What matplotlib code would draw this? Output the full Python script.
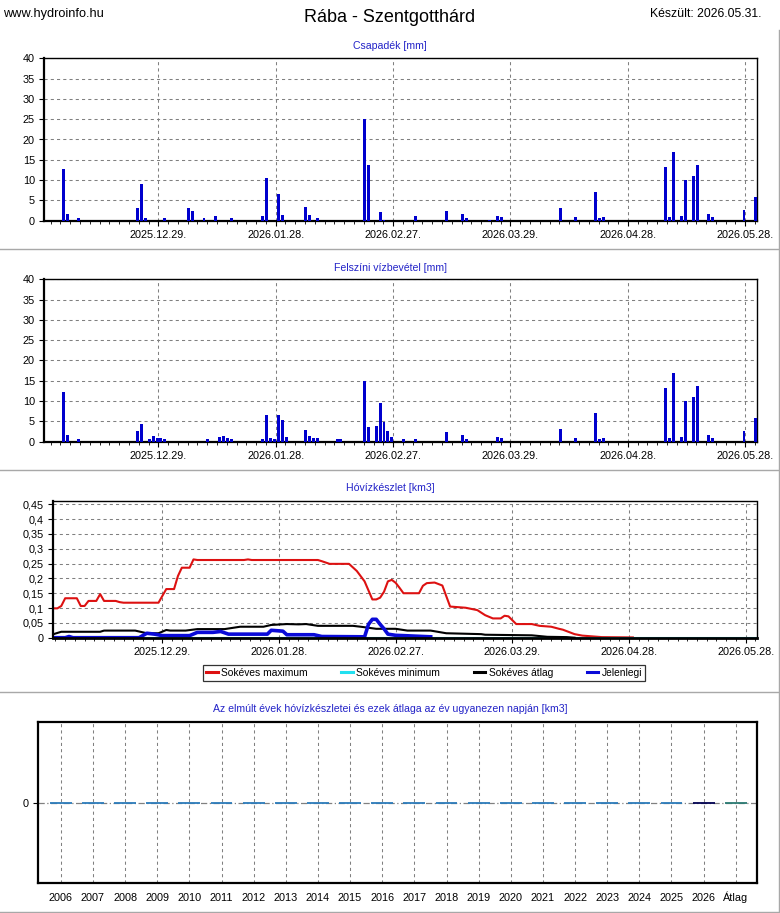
import numpy as np
import pandas as pd
import matplotlib
matplotlib.use("Agg")
import matplotlib.pyplot as plt
import matplotlib.dates as mdates
from matplotlib.lines import Line2D
from matplotlib.ticker import FixedLocator, FuncFormatter

# ---- data ----
rain_dates = ["2025-12-04", "2025-12-05", "2025-12-08", "2025-12-23", "2025-12-24", "2025-12-25", "2025-12-30",
              "2026-01-05", "2026-01-06", "2026-01-09", "2026-01-12", "2026-01-16", "2026-01-24", "2026-01-25",
              "2026-01-28", "2026-01-29",
              "2026-02-04", "2026-02-05", "2026-02-07", "2026-02-19", "2026-02-20", "2026-02-23", "2026-02-24",
              "2026-03-04", "2026-03-12", "2026-03-16", "2026-03-17", "2026-03-23", "2026-03-25", "2026-03-26",
              "2026-04-10", "2026-04-14", "2026-04-19", "2026-04-20", "2026-04-21",
              "2026-05-07", "2026-05-08", "2026-05-09", "2026-05-11", "2026-05-12", "2026-05-14", "2026-05-15",
              "2026-05-18", "2026-05-19", "2026-05-27", "2026-05-30"]
rain_mm = [12.7, 1.6, 0.7, 3.1, 9.0, 0.7, 0.7,
           3.1, 2.4, 0.7, 1.2, 0.7, 1.2, 10.5, 6.6, 1.4,
           3.4, 1.4, 0.7, 25.0, 13.7, 2.1, 0.2,
           1.2, 2.4, 1.6, 0.7, 0.2, 1.2, 0.9,
           3.1, 0.9, 7.1, 0.7, 0.9,
           13.2, 0.9, 16.9, 1.2, 10.0, 11.0, 13.7, 1.6, 0.9, 2.6, 5.8]

inflow_dates = ["2025-12-04", "2025-12-05", "2025-12-08", "2025-12-23", "2025-12-24", "2025-12-26", "2025-12-27",
                "2025-12-28", "2025-12-29", "2025-12-30",
                "2026-01-10", "2026-01-13", "2026-01-14", "2026-01-15", "2026-01-16", "2026-01-24", "2026-01-25",
                "2026-01-26", "2026-01-27", "2026-01-28", "2026-01-29", "2026-01-30",
                "2026-02-04", "2026-02-05", "2026-02-06", "2026-02-07", "2026-02-12", "2026-02-13", "2026-02-19",
                "2026-02-20", "2026-02-22", "2026-02-23", "2026-02-24", "2026-02-25", "2026-02-26",
                "2026-03-01", "2026-03-04", "2026-03-12", "2026-03-16", "2026-03-17", "2026-03-25", "2026-03-26",
                "2026-04-10", "2026-04-14", "2026-04-19", "2026-04-20", "2026-04-21",
                "2026-05-07", "2026-05-08", "2026-05-09", "2026-05-11", "2026-05-12", "2026-05-14", "2026-05-15",
                "2026-05-18", "2026-05-19", "2026-05-27", "2026-05-30"]
inflow_mm = [12.2, 1.6, 0.7, 2.6, 4.4, 0.7, 1.4, 0.9, 0.9, 0.7,
             0.7, 1.2, 1.4, 0.9, 0.7, 0.7, 6.6, 0.9, 0.7, 6.6, 5.3, 1.2,
             2.9, 1.4, 0.9, 0.9, 0.7, 0.7, 14.9, 3.6, 3.9, 9.5, 4.8, 2.6, 1.2,
             0.6, 0.6, 2.4, 1.6, 0.6, 1.1, 0.9,
             3.1, 0.9, 7.1, 0.6, 0.9,
             13.2, 0.9, 16.9, 1.2, 10.0, 11.0, 13.7, 1.6, 0.9, 2.6, 5.8]

max_dates = ["2025-12-01", "2025-12-02", "2025-12-03", "2025-12-04", "2025-12-07", "2025-12-08", "2025-12-09",
             "2025-12-10", "2025-12-12", "2025-12-13", "2025-12-14", "2025-12-17", "2025-12-18", "2025-12-19",
             "2025-12-28", "2025-12-30", "2026-01-01", "2026-01-02", "2026-01-03", "2026-01-05", "2026-01-06",
             "2026-01-07", "2026-01-19", "2026-01-20", "2026-01-21", "2026-02-07", "2026-02-08", "2026-02-10",
             "2026-02-15", "2026-02-17", "2026-02-19", "2026-02-21", "2026-02-22", "2026-02-23", "2026-02-24",
             "2026-02-25", "2026-02-26", "2026-02-27", "2026-02-28", "2026-03-01", "2026-03-05", "2026-03-06",
             "2026-03-07", "2026-03-09", "2026-03-11", "2026-03-13", "2026-03-17", "2026-03-20", "2026-03-22",
             "2026-03-24", "2026-03-26", "2026-03-27", "2026-03-28", "2026-03-30", "2026-04-03", "2026-04-05",
             "2026-04-08", "2026-04-10", "2026-04-11", "2026-04-14", "2026-04-16", "2026-04-21", "2026-04-29"]
max_km3 = [0.099, 0.099, 0.107, 0.133, 0.133, 0.107, 0.107,
           0.124, 0.124, 0.147, 0.124, 0.124, 0.120, 0.118,
           0.118, 0.164, 0.164, 0.208, 0.236, 0.236, 0.264,
           0.262, 0.262, 0.264, 0.262, 0.262, 0.258, 0.249,
           0.249, 0.225, 0.190, 0.129, 0.129, 0.135, 0.155,
           0.190, 0.195, 0.185, 0.168, 0.150, 0.150, 0.175,
           0.184, 0.186, 0.176, 0.105, 0.101, 0.093, 0.076,
           0.065, 0.065, 0.074, 0.072, 0.046, 0.046, 0.040,
           0.037, 0.030, 0.027, 0.012, 0.007, 0.002, 0.001]

min_dates = ["2025-12-01", "2026-05-31"]
min_km3 = [0.0, 0.0]

avg_dates = ["2025-12-01", "2025-12-03", "2025-12-13", "2025-12-14", "2025-12-22", "2025-12-25", "2025-12-28",
             "2025-12-30", "2025-12-31", "2026-01-04", "2026-01-07", "2026-01-14", "2026-01-18", "2026-01-24",
             "2026-01-26", "2026-01-30", "2026-02-02", "2026-02-04", "2026-02-07", "2026-02-16", "2026-02-18",
             "2026-02-22", "2026-02-27", "2026-03-02", "2026-03-08", "2026-03-12", "2026-03-21", "2026-03-22",
             "2026-04-03", "2026-04-07", "2026-04-12", "2026-04-14"]
avg_km3 = [0.012, 0.020, 0.020, 0.024, 0.024, 0.015, 0.015,
           0.026, 0.024, 0.024, 0.029, 0.029, 0.037, 0.037,
           0.043, 0.046, 0.045, 0.046, 0.040, 0.040, 0.037,
           0.030, 0.030, 0.024, 0.024, 0.015, 0.012, 0.010,
           0.008, 0.003, 0.002, 0.0]

cur_dates = ["2025-12-01", "2025-12-04", "2025-12-05", "2025-12-06", "2025-12-23", "2025-12-25", "2025-12-27",
             "2025-12-29", "2026-01-05", "2026-01-07", "2026-01-11", "2026-01-13", "2026-01-15", "2026-01-25",
             "2026-01-26", "2026-01-29", "2026-01-30", "2026-02-06", "2026-02-08", "2026-02-19", "2026-02-20",
             "2026-02-21", "2026-02-22", "2026-02-23", "2026-02-24", "2026-02-25", "2026-02-27", "2026-03-01",
             "2026-03-08"]
cur_km3 = [0.0, 0.0, 0.004, 0.0, 0.0, 0.015, 0.012,
           0.007, 0.007, 0.018, 0.018, 0.021, 0.012, 0.012,
           0.025, 0.022, 0.010, 0.010, 0.004, 0.003, 0.045,
           0.062, 0.062, 0.045, 0.030, 0.012, 0.008, 0.007,
           0.003]

years = ["2006", "2007", "2008", "2009", "2010", "2011", "2012", "2013", "2014", "2015", "2016",
         "2017", "2018", "2019", "2020", "2021", "2022", "2023", "2024", "2025", "2026", "Átlag"]
year_km3 = [0.0] * 22
year_colors = ["#2b7bba"] * 20 + ["#000050", "#2a7a72"]

tick_dates = ["2025-12-29", "2026-01-28", "2026-02-27", "2026-03-29", "2026-04-28", "2026-05-28"]

# ---- styling ----
BLUE_BAR = "#0000cd"
TITLE_BLUE = "#2323c8"
GRIDC = "#808080"
SEPC = "#a8a8a8"
plt.rcParams["font.family"] = ["Liberation Sans", "DejaVu Sans"]
TICK_FS = 7.8

W, H = 780, 913
fig = plt.figure(figsize=(W / 100, H / 100), dpi=100)


def rect(l, t, r, b):
    return [l / W, 1 - b / H, (r - l) / W, (b - t) / H]


def dnum(lst):
    return mdates.date2num(pd.to_datetime(lst))


def style(ax):
    ax.spines["left"].set_linewidth(1.6)
    ax.spines["bottom"].set_linewidth(1.6)
    ax.spines["right"].set_linewidth(1.0)
    ax.spines["top"].set_linewidth(1.0)
    ax.spines["top"].set_linestyle((0, (2, 1)))
    ax.grid(True, which="major", color=GRIDC, ls=(0, (3, 3)), lw=0.75)
    ax.set_axisbelow(True)
    ax.tick_params(which="major", length=3.5, width=0.8, pad=3, labelsize=TICK_FS)
    ax.tick_params(which="minor", length=2, width=0.6)


def date_axis(ax, x0, x1):
    ticks = dnum(tick_dates)
    ax.set_xlim(x0, x1)
    ax.xaxis.set_major_locator(FixedLocator(ticks))
    ax.xaxis.set_major_formatter(mdates.DateFormatter("%Y.%m.%d."))
    ax.xaxis.set_minor_locator(FixedLocator(np.arange(ticks[0] - 30, x1, 2.5)))


d0 = mdates.date2num(pd.Timestamp("2025-11-29 19:00"))
d1 = mdates.date2num(pd.Timestamp("2026-05-31 00:00"))
BAR_SHIFT = 0.68

# panel 1: Csapadék
ax1 = fig.add_axes(rect(44, 58.3, 757, 220.7))
ax1.bar(dnum(rain_dates) + BAR_SHIFT, rain_mm, width=0.75, color=BLUE_BAR, zorder=3)
ax1.set_ylim(0, 40)
ax1.set_yticks(range(0, 41, 5))
date_axis(ax1, d0, d1)
style(ax1)

# panel 2: Felszíni vízbevétel
ax2 = fig.add_axes(rect(44, 279.3, 757, 441.7))
ax2.bar(dnum(inflow_dates) + BAR_SHIFT, inflow_mm, width=0.75, color=BLUE_BAR, zorder=3)
ax2.set_ylim(0, 40)
ax2.set_yticks(range(0, 41, 5))
date_axis(ax2, d0, d1)
style(ax2)

# panel 3: Hóvízkészlet
ax3 = fig.add_axes(rect(52.7, 500.7, 757.3, 637.7))
ax3.plot(dnum(max_dates), max_km3, color="#dd1111", lw=1.5, label="Sokéves maximum", zorder=2)
ax3.plot(dnum(min_dates), min_km3, color="#22e0f0", lw=1.5, label="Sokéves minimum", zorder=2)
ax3.plot(dnum(avg_dates), avg_km3, color="black", lw=1.5, label="Sokéves átlag", zorder=2)
ax3.plot(dnum(cur_dates), cur_km3, color="#0a0ad8", lw=2.6, label="Jelenlegi", zorder=2)
ax3.set_ylim(0, 0.462)
ax3.set_yticks(np.arange(0, 0.451, 0.05))
ax3.yaxis.set_major_formatter(FuncFormatter(
    lambda v, p: ("%.2f" % v).rstrip("0").rstrip(".").replace(".", ",")))
date_axis(ax3, mdates.date2num(pd.Timestamp("2025-11-30 19:00")), d1)
style(ax3)
ax3.spines["bottom"].set_linewidth(2.0)
ax3.spines["bottom"].set_zorder(3)

leg = fig.legend(handles=ax3.get_legend_handles_labels()[0], ncol=4, loc="center",
                 bbox_to_anchor=(203.3 / W, 1 - 681.7 / H, 441.7 / W, 17.7 / H), mode="expand",
                 fontsize=7.4, handlelength=1.1, handletextpad=0.35, borderpad=0.3,
                 fancybox=False, frameon=True, borderaxespad=0)
leg.get_frame().set_edgecolor("black")
leg.get_frame().set_linewidth(0.9)
for h in leg.legend_handles:
    h.set_linewidth(2.2)

# panel 4: yearly values
ax4 = fig.add_axes(rect(37.7, 721.7, 757.3, 883.3))
xs = np.arange(len(years))
ax4.axhline(0, color="#808080", lw=0.9, ls=(0, (5, 2, 1, 2)), zorder=1)
ax4.bar(xs, year_km3, width=0.68, color=year_colors, edgecolor=year_colors, lw=1.3, zorder=3)
ax4.set_xlim(-0.72, len(years) - 1 + 0.67)
ax4.set_ylim(-1, 1)
ax4.set_yticks([0])
ax4.set_xticks(xs)
ax4.set_xticklabels(years, va="baseline")
ax4.grid(True, axis="x", color=GRIDC, ls=(0, (3, 3)), lw=0.75)
ax4.set_axisbelow(True)
for s in ax4.spines.values():
    s.set_linewidth(1.6)
ax4.tick_params(length=3.5, width=0.8, pad=3, labelsize=TICK_FS)
ax4.tick_params(axis="x", length=0, pad=13)

# titles
fig.text(0.5, 1 - 18 / H, "Rába - Szentgotthárd", ha="center", va="center", fontsize=13)
fig.text(3 / W, 1 - 14 / H, "www.hydroinfo.hu", ha="left", va="center", fontsize=9.2)
fig.text(762 / W, 1 - 14 / H, "Készült: 2026.05.31.", ha="right", va="center", fontsize=8.8)
for ypx, txt in [(46, "Csapadék [mm]"), (267.7, "Felszíni vízbevétel [mm]"),
                 (488.3, "Hóvízkészlet [km3]"),
                 (709.3, "Az elmúlt évek hóvízkészletei és ezek átlaga az év ugyanezen napján [km3]")]:
    fig.text(0.5, 1 - ypx / H, txt, ha="center", va="center", fontsize=7.6, color=TITLE_BLUE)

# panel separators
for ypx in (249.3, 470, 691.7, 911.5):
    fig.add_artist(Line2D([0, 779 / W], [1 - ypx / H] * 2, color=SEPC, lw=1.0))
fig.add_artist(Line2D([779 / W] * 2, [1 - 30 / H, 1 - 911.5 / H], color=SEPC, lw=1.0))

fig.savefig("out.png", dpi=100)
